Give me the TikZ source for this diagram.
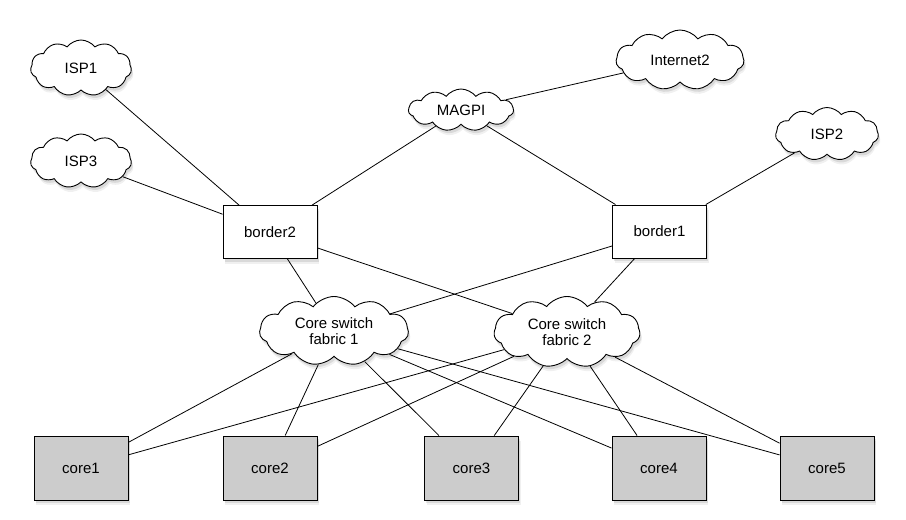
\documentclass[tikz,border=0pt]{standalone}
\usepackage{fontspec}
\setmainfont{Liberation Sans}
\usetikzlibrary{shapes.symbols,shadows}
\begin{document}
\begin{tikzpicture}[x=1pt,y=-1pt,
  font=\fontsize{15}{16}\selectfont,
  shd/.style={drop shadow={shadow xshift=2pt,shadow yshift=-5pt,opacity=.12},
              drop shadow={shadow xshift=1.5pt,shadow yshift=-3pt,opacity=.2}},
  box/.style={draw,line width=0.9pt,fill=white,minimum width=94pt,minimum height=53pt,inner sep=0pt,shd},
  corebox/.style={box,fill=black!20,minimum height=64pt},
  cl/.style={cloud,cloud puffs=11,cloud puff arc=105,cloud ignores aspect,draw,line width=0.9pt,fill=white,inner sep=0pt,align=center,shd},
  link/.style={line width=0.8pt}]
\useasboundingbox (0,0) rectangle (906,520);
% clouds
\node[cl,minimum width=101pt,minimum height=56pt] (isp1) at (81,68) {ISP1};
\node[cl,minimum width=101pt,minimum height=54pt] (isp3) at (81,161) {ISP3};
\node[cl,minimum width=105pt,minimum height=42pt] (magpi) at (461,110) {MAGPI};
\node[cl,minimum width=128pt,minimum height=60pt] (inet2) at (680,60) {Internet2};
\node[cl,minimum width=103pt,minimum height=53pt] (isp2) at (827,134) {ISP2};
\node[cl,minimum width=149pt,minimum height=69pt] (csf1) at (334,331) {Core switch\\fabric 1};
\node[cl,minimum width=146pt,minimum height=71pt] (csf2) at (567,332) {Core switch\\fabric 2};
% border routers
\node[box] (b2) at (270,232) {border2};
\node[box] (b1) at (659.5,231.5) {border1};
% cores
\node[corebox] (c1) at (81,468) {core1};
\node[corebox] (c2) at (270,468) {core2};
\node[corebox] (c3) at (471.5,468) {core3};
\node[corebox] (c4) at (659,468) {core4};
\node[corebox] (c5) at (827,468) {core5};
% links
\draw[link] (isp1) -- (b2);
\draw[link] (isp3) -- (b2);
\draw[link] (b2) -- (magpi);
\draw[link] (magpi) -- (inet2);
\draw[link] (magpi) -- (b1);
\draw[link] (isp2) -- (b1);
\draw[link] (b2) -- (csf1);
\draw[link] (b2) -- (csf2);
\draw[link] (b1) -- (csf1);
\draw[link] (b1) -- (csf2);
\foreach \c in {c1,c2,c3,c4,c5}{
  \draw[link] (csf1) -- (\c);
  \draw[link] (csf2) -- (\c);
}
\end{tikzpicture}
\end{document}
